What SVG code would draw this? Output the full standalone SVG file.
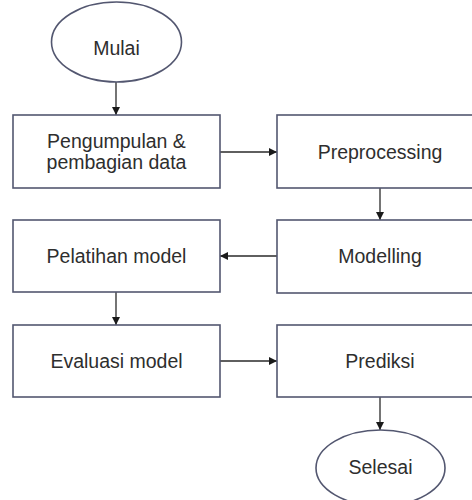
<svg xmlns="http://www.w3.org/2000/svg" width="472" height="500" viewBox="0 0 472 500">
<defs>
<marker id="ah" viewBox="0 0 10 10" refX="10" refY="5" markerWidth="8" markerHeight="8" markerUnits="userSpaceOnUse" orient="auto">
<path d="M0,0 L10,5 L0,10 Z" fill="#1a1a1a"/>
</marker>
</defs>
<style>
.box{fill:#ffffff;stroke:#535770;stroke-width:1.6}
.lbl{font-family:"Liberation Sans",Arial,sans-serif;font-size:19.5px;fill:#2e2e2e;text-anchor:middle}
.con{stroke:#2a2a2a;stroke-width:1.3;fill:none;marker-end:url(#ah)}
</style>
<rect width="472" height="500" fill="#ffffff"/>
<g id="connectors">
<line class="con" x1="116" y1="82" x2="116" y2="115"/>
<line class="con" x1="220" y1="152" x2="277" y2="152"/>
<line class="con" x1="380" y1="188" x2="380" y2="220"/>
<line class="con" x1="277" y1="256" x2="220" y2="256"/>
<line class="con" x1="116" y1="292" x2="116" y2="325"/>
<line class="con" x1="220" y1="361" x2="277" y2="361"/>
<line class="con" x1="380" y1="397" x2="380" y2="430"/>
</g>
<g id="mulai">
<ellipse class="box" cx="116.5" cy="42" rx="65" ry="40"/>
<text class="lbl" x="116.5" y="55">Mulai</text>
</g>
<g id="pengumpulan">
<rect class="box" x="13" y="115" width="207" height="73"/>
<text class="lbl" x="116.5" y="148">Pengumpulan &amp;</text>
<text class="lbl" x="116.5" y="169">pembagian data</text>
</g>
<g id="preprocessing">
<rect class="box" x="277" y="115" width="207" height="73"/>
<text class="lbl" x="380" y="159">Preprocessing</text>
</g>
<g id="modelling">
<rect class="box" x="277" y="220" width="207" height="73"/>
<text class="lbl" x="380" y="263">Modelling</text>
</g>
<g id="pelatihan">
<rect class="box" x="13" y="220" width="207" height="72"/>
<text class="lbl" x="116.5" y="263">Pelatihan model</text>
</g>
<g id="evaluasi">
<rect class="box" x="13" y="325" width="207" height="72"/>
<text class="lbl" x="116.5" y="368">Evaluasi model</text>
</g>
<g id="prediksi">
<rect class="box" x="277" y="325" width="207" height="72"/>
<text class="lbl" x="380" y="368">Prediksi</text>
</g>
<g id="selesai">
<ellipse class="box" cx="380.5" cy="468" rx="64.5" ry="38"/>
<text class="lbl" x="380.5" y="474">Selesai</text>
</g>
</svg>
